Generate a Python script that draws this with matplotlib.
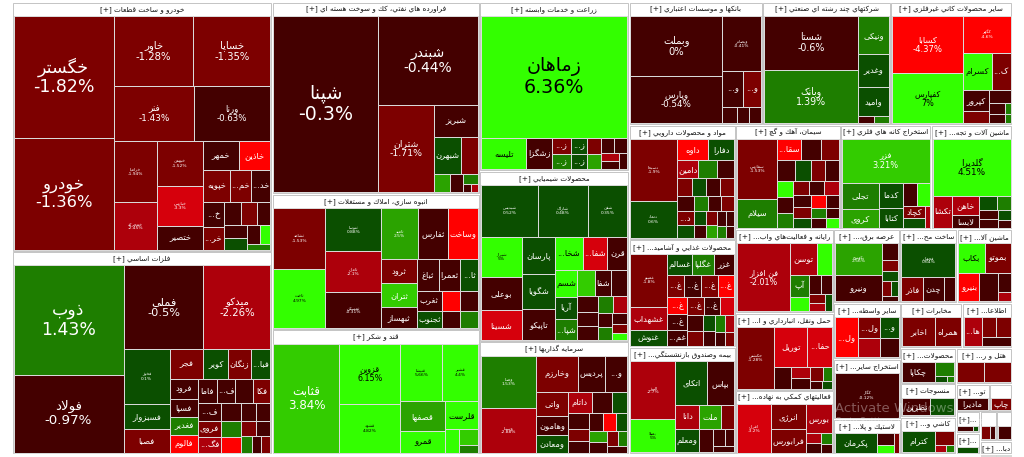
import matplotlib
matplotlib.use("Agg")
import matplotlib.pyplot as plt
from matplotlib.patches import Rectangle

# ---------------- data: (ticker, % change, market weight) ----------------
khodro_tiles = [
    ("خگستر", -1.82, 12200), ("خودرو", -1.36, 11200), ("خاور", -1.28, 5600),
    ("خساپا", -1.35, 5400), ("فنر", -1.43, 4400), ("ورنا", -0.63, 4200),
    ("خزامیا", -1.94, 2650), ("خمحرکه", -2.45, 2050), ("خبهمن", -1.52, 2040),
    ("خپارس", -3.3, 1840), ("ختصیر", -0.81, 1120), ("خمهر", -0.55, 1010),
    ("خاذین", -4.6, 900), ("خپویه", -1.24, 860), ("خموتور", -1.15, 675),
    ("خدیزل", -0.72, 640), ("خمحور", -0.64, 525), ("خریخت", -1.3, 460),
    ("", -0.6, 400), ("", -1.2, 350), ("", -0.5, 310), ("", -0.8, 300),
    ("", 0.7, 280), ("", -0.6, 250), ("", 5.0, 200), ("", 1.2, 150),
]
felezat_tiles = [
    ("ذوب", 1.43, 11900), ("فولاد", -0.97, 8500), ("فملی", -0.5, 6640),
    ("میدکو", -2.26, 5580), ("فخوز", 0.1, 2520), ("فسبزوار", 0.52, 1125),
    ("فصبا", -1.21, 1080), ("فجر", -1.55, 970), ("کویر", 0.61, 730),
    ("زنگان", -1.62, 650), ("فباهنر", 0.44, 570), ("فرود", -0.82, 560),
    ("فسپا", -0.61, 500), ("فغدیر", 1.52, 500), ("فالوم", -4.5, 490),
    ("فاما", -0.7, 460), ("فلوله", -0.9, 450), ("فنورد", -0.5, 430),
    ("فکا", -1.4, 420), ("فسرب", -0.6, 400), ("فروی", -1.3, 380),
    ("فگستر", -2.5, 350), ("", -0.4, 340), ("", 1.6, 320), ("", -4.4, 300),
    ("", -0.8, 280), ("", -0.5, 250), ("", -1.2, 220), ("", -0.7, 200),
    ("", 1.5, 180), ("", -0.6, 160), ("", -1.1, 150),
]
nafti_tiles = [
    ("شپنا", -0.3, 18690), ("شبندر", -0.44, 9090), ("شتران", -1.71, 5020),
    ("شبریز", -0.62, 1410), ("شبهرن", 0.71, 1010), ("شاوان", -1.12, 660),
    ("", 2.5, 290), ("", -0.5, 230), ("", 1.5, 145), ("", -0.6, 80), ("", -2.3, 60),
]
anbooh_tiles = [
    ("ثشاهد", -1.53, 3170), ("ثاخت", 4.97, 3070), ("ثنوسا", 0.88, 2420),
    ("ثامان", -2.1, 2260), ("ثمسکن", -0.31, 2016), ("ثامید", 2.5, 1920),
    ("ثفارس", -0.52, 1536), ("وساخت", -4.5, 1518), ("ثرود", -1.3, 864),
    ("ثتران", 3.5, 858), ("ثبهساز", -0.7, 736), ("ثباغ", -0.4, 704),
    ("ثعمرا", -0.8, 672), ("ثالوند", 0.62, 567), ("ثغرب", -0.6, 504),
    ("ثجنوب", 0.5, 441), ("", -4.5, 364), ("", -0.9, 360), ("", -0.6, 312),
    ("", 1.5, 308),
]
ghand_tiles = [
    ("قثابت", 3.84, 7330), ("قزوین", 6.15, 3780), ("قشهد", 4.82, 2990),
    ("قنیشا", 5.66, 2480), ("قشیر", 4.4, 2124), ("قصفها", 2.8, 1350),
    ("قمرو", 5.1, 990), ("قلرست", 4.9, 924), ("", 5.0, 340), ("", 3.5, 312),
    ("", 1.5, 140),
]
zeraat_tiles = [
    ("زماهان", 6.36, 17930), ("تلیسه", 5.2, 1420), ("زشگزا", -0.6, 792),
    ("زکشت", -1.3, 306), ("زمگسا", 1.5, 288), ("زفکا", 0.6, 260),
    ("زپارس", 0.5, 255), ("", -1.5, 221), ("", 2.5, 208), ("", -0.6, 198),
    ("", -0.7, 192), ("", -2.2, 154), ("", -0.8, 150), ("", -0.5, 140),
]
shimi_tiles = [
    ("شپدیس", 0.52, 2900), ("شاراک", 0.48, 2600), ("شفن", 0.35, 2000),
    ("شیراز", 5.0, 1600), ("بوعلی", -0.62, 1360), ("شسینا", -3.4, 1200),
    ("پارسان", 0.61, 1184), ("شگویا", 0.55, 1152), ("تاپیکو", -0.72, 992),
    ("شخارک", 4.6, 920), ("شفارس", -3.2, 805), ("قرن", -0.5, 667),
    ("شسم", 4.3, 575), ("آریا", 0.8, 483), ("شپاکسا", 1.4, 460),
    ("شکلر", 3.5, 460), ("شفا", -0.6, 420), ("شصفها", -0.5, 414),
    ("", -0.5, 320), ("", -0.7, 300), ("", -0.6, 280), ("", 1.5, 250),
    ("", -2.4, 230), ("", -0.5, 200), ("", 1.2, 180), ("", -0.8, 160),
    ("", -1.5, 140), ("", 4.5, 100),
]
sarmaye_tiles = [
    ("وصنا", 1.53, 2756), ("وسینا", -2.88, 2340), ("وخارزم", -1.3, 1419),
    ("پردیس", -0.62, 957), ("وسمرکز", -0.5, 759), ("واتی", -1.25, 702),
    ("وهامون", -0.7, 567), ("ومعادن", 0.6, 522), ("داتام", -2.2, 486),
    ("", -0.5, 408), ("", 0.5, 324), ("", -0.6, 324), ("", -1.3, 234),
    ("", -0.7, 234), ("", -0.5, 224), ("", -4.5, 216), ("", 0.7, 192),
    ("", 2.5, 192), ("", -0.6, 182), ("", -1.2, 150), ("", 1.5, 140),
    ("", -0.5, 120),
]
bank_tiles = [
    ("وبملت", 0, 5612), ("وپارس", -0.54, 4416), ("وبصادر", -0.41, 2200),
    ("وتجارت", -0.52, 800), ("وخاور", -1.4, 660), ("", -0.6, 250),
    ("", -0.5, 200), ("", -0.7, 200),
]
chand_tiles = [
    ("شستا", -0.6, 5180), ("وبانک", 1.39, 5180), ("ونیکی", 1.2, 1209),
    ("وغدیر", 0.6, 1023), ("وامید", 0.5, 899), ("", -0.6, 128), ("", 1.1, 120),
]
kani_tiles = [
    ("کسابا", -4.37, 4234), ("کفپارس", 7.0, 3723), ("کگهر", -4.6, 1824),
    ("کسرام", 5.0, 1073), ("کلوند", -1.3, 703), ("کپرور", -0.6, 546),
    ("", -1.2, 338), ("", -0.6, 286), ("", -0.7, 176), ("", -0.5, 160),
    ("", 1.0, 66), ("", 1.2, 60),
]
darou_tiles = [
    ("دسبحا", -1.9, 2852), ("دتماد", 0.6, 1702), ("داوه", -4.5, 672),
    ("دفارا", 0.7, 546), ("دامین", -2.2, 375), ("", 1.3, 324), ("", -0.9, 300),
    ("", -1.4, 280), ("", 0.4, 260), ("دلر", -0.6, 255), ("", -1.2, 252),
    ("", -0.7, 252), ("دکوثر", -1.2, 240), ("", 0.6, 216), ("", 1.5, 200),
    ("", -0.6, 190), ("", -1.3, 180), ("", 0.5, 170), ("", -0.8, 160),
    ("", -1.1, 150), ("", 2.5, 140), ("", -0.5, 130), ("", -0.6, 120),
    ("", 1.2, 110), ("", -0.7, 100),
]
ghaza_tiles = [
    ("غمینو", -1.8, 1908), ("غشهداب", -2.4, 828), ("غنوش", 0.5, 576),
    ("غسالم", 0.6, 525), ("غگلپا", 1.3, 483), ("غزر", -0.6, 420),
    ("غپاک", -1.4, 380), ("غبشهر", -0.7, 370), ("غدشت", -1.6, 360),
    ("غچین", -4.5, 350), ("غبهنوش", -4.4, 340), ("غشاذر", -0.9, 330),
    ("غمارگ", -0.8, 320), ("غدام", -1.2, 300), ("غپینو", -0.6, 280),
    ("", -3.3, 260), ("", -0.7, 240), ("", -1.3, 220), ("", 0.6, 200),
    ("", -0.5, 180), ("", 1.5, 160), ("", -2.3, 150), ("", -0.6, 140),
    ("", -1.1, 120),
]
bime_tiles = [
    ("البرز", -2.7, 2610), ("بمیلا", 5.0, 1530), ("اتکای", 0.72, 1408),
    ("بپاس", -0.6, 1188), ("دانا", -2.1, 576), ("ومعلم", 0.5, 576),
    ("ملت", 2.4, 528), ("", -1.3, 330), ("بآسیا", -0.7, 312),
    ("", -0.6, 200), ("", -0.5, 150), ("", -0.8, 150),
]
siman_tiles = [
    ("سفارس", -1.53, 2340), ("سیلام", 1.3, 1131), ("سقاین", -4.5, 500),
    ("سخزر", -0.6, 400), ("سبهان", -1.2, 380), ("سارود", -0.7, 360),
    ("سشرق", 0.6, 315), ("", -1.3, 285), ("", -0.6, 270), ("", 5.0, 260),
    ("", -0.8, 250), ("", 1.4, 240), ("", -1.5, 230), ("", -0.7, 220),
    ("", -2.4, 210), ("", -0.6, 200), ("", -1.1, 190), ("", 0.6, 180),
    ("", -4.5, 170), ("", -0.5, 160), ("", 1.2, 150), ("", -0.9, 140),
    ("", -0.6, 130), ("", 4.8, 120),
]
kane_tiles = [
    ("فزر", 3.21, 3700), ("تجلی", 1.3, 924), ("کروی", 2.2, 672),
    ("کدما", 0.6, 560), ("کتابا", 0.5, 456), ("", -0.6, 300), ("", 5.0, 288),
    ("کچاد", -1.3, 247), ("", 0.7, 208), ("", -2.3, 104),
]
mashin_tiles = [
    ("گلدیرا", 4.51, 4345), ("تکشا", -2.3, 600), ("خاهن", -2.2, 510),
    ("لابسا", -0.7, 323), ("", 0.6, 247), ("", 1.3, 180), ("", -0.6, 165),
    ("", -0.8, 165), ("", 0.7, 120), ("", -0.5, 100),
]
rayane_tiles = [
    ("فن افزار", -2.01, 3640), ("توسن", -2.2, 868), ("", 5.0, 465),
    ("آپ", 1.3, 390), ("", 5.0, 270), ("", -0.6, 234), ("", -0.7, 210),
    ("", -1.2, 150), ("", -2.3, 130), ("", 0.6, 120),
]
haml_tiles = [
    ("حکشتی", -1.28, 2442), ("توریل", -3.3, 1394), ("حفارس", -3.6, 1025),
    ("", -0.6, 400), ("", -2.2, 234), ("", -0.7, 216), ("", -1.3, 195),
    ("", 1.5, 130), ("", -0.5, 100), ("", 0.6, 80),
]
komaki_tiles = [
    ("افران", -3.2, 1734), ("انرژی", -1.2, 910), ("فرابورس", -1.4, 875),
    ("بورس", -2.1, 783), ("", -2.3, 168), ("", -0.6, 150), ("", 1.5, 120),
    ("", -0.7, 100),
]
bargh_tiles = [
    ("بکهنوج", 2.56, 1536), ("ونیرو", -0.6, 1248), ("", -0.7, 270),
    ("", -1.3, 180), ("", 0.6, 180), ("", -1.2, 130), ("", 0.5, 110), ("", -0.6, 90),
]
felezi_tiles = [("فجهان", 0.64, 1938), ("فاذر", -1.2, 552), ("چدن", -0.6, 528), ("", -0.7, 288)]
barghi_tiles = [
    ("بکاب", 5.0, 814), ("بموتو", -1.2, 780), ("بنیرو", -4.5, 624),
    ("", -0.6, 544), ("", -0.7, 250), ("", -2.3, 120),
]
vaset_tiles = [("ولساپا", -4.5, 1032), ("ولملت", -1.3, 506), ("", -2.3, 460), ("ولغدر", 0.6, 440), ("", -0.6, 400)]
madan_tiles = [("کگاز", -0.12, 2900)]
lastik_tiles = [("پکرمان", 0.6, 931), ("", -0.6, 230), ("", 5.0, 140), ("", -1.3, 100)]
mokhaberat_tiles = [("اخابر", -1.3, 1085), ("همراه", -1.2, 837)]
ettelaat_tiles = [("هایوب", -2.2, 589), ("", -1.3, 315), ("", -1.4, 315), ("", -0.6, 300)]
kaghaz_tiles = [("چکاپا", -0.6, 770), ("", 1.3, 320), ("", 0.6, 91), ("", 1.5, 49)]
nasaji_tiles = [("نطرین", -0.6, 570), ("", 0.6, 475)]
kashi_tiles = [("کترام", 0.6, 700), ("", -1.3, 260), ("", -2.3, 80), ("", 1.2, 60)]
hotel_tiles = [("", -1.3, 420), ("", -1.2, 405)]
tolid_tiles = [("مادیرا", -0.6, 430)]
chap_tiles = [("چاپ", -1.3, 300)]
forooshi_tiles = [("", -0.6, 150), ("", 0.5, 50)]
abi_tiles = [("", 0.6, 200)]
choobi_tiles = [("", -1.2, 120), ("", -0.6, 60)]
peyman_tiles = [("", -0.7, 150)]
dabbaghi_tiles = [("", -4.5, 60), ("", 1.5, 60)]

sector_names = [
    "خودرو و ساخت قطعات", "فلزات اساسي", "فراورده هاي نفتي، كك و سوخت هسته اي",
    "انبوه سازي، املاك و مستغلات", "قند و شكر", "زراعت و خدمات وابسته",
    "محصولات شيميايي", "سرمايه گذاريها", "بانكها و موسسات اعتباري",
    "شركتهاي چند رشته اي صنعتي", "ساير محصولات كاني غيرفلزي",
    "مواد و محصولات دارويي", "محصولات غذايي و آشاميدني به جز قند و شكر",
    "بيمه وصندوق بازنشستگي به جز تامين اجتماعي", "سيمان، آهك و گچ",
    "استخراج كانه هاي فلزي", "ماشين آلات و تجهيزات", "رايانه و فعاليت‌هاي وابسته به آن",
    "حمل ونقل، انبارداري و ارتباطات", "فعاليتهاي كمكي به نهادهاي مالي واسط",
    "عرضه برق، گاز، بخاروآب گرم", "ساخت محصولات فلزي", "ماشين آلات و دستگاههاي برقي",
    "ساير واسطه گريهاي مالي", "استخراج ساير معادن", "لاستيك و پلاستيك",
    "مخابرات", "اطلاعات و ارتباطات", "محصولات كاغذي", "منسوجات",
    "كاشي و سراميك", "هتل و رستوران", "توليد محصولات كامپيوتري",
    "انتشار، چاپ و تكثير", "خرده فروشي", "حمل و نقل آبي", "محصولات چوبي",
    "پيمانكاري صنعتي", "دباغي",
]
sector_values = [
    64000, 52000, 39350, 27800, 25500, 24900, 25200, 16600, 16226, 15494, 14762,
    12075, 11340, 11235, 10816, 9360, 8320, 8064, 7488, 6144, 4818, 4161, 4015,
    3700, 4000, 2300, 2745, 2205, 1950, 1815, 2035, 2000, 924, 616, 500, 500,
    480, 450, 420,
]
sector_tiles = [
    khodro_tiles, felezat_tiles, nafti_tiles, anbooh_tiles, ghand_tiles,
    zeraat_tiles, shimi_tiles, sarmaye_tiles, bank_tiles, chand_tiles, kani_tiles,
    darou_tiles, ghaza_tiles, bime_tiles, siman_tiles, kane_tiles, mashin_tiles,
    rayane_tiles, haml_tiles, komaki_tiles, bargh_tiles, felezi_tiles,
    barghi_tiles, vaset_tiles, madan_tiles, lastik_tiles, mokhaberat_tiles,
    ettelaat_tiles, kaghaz_tiles, nasaji_tiles, kashi_tiles, hotel_tiles,
    tolid_tiles, chap_tiles, forooshi_tiles, abi_tiles, choobi_tiles,
    peyman_tiles, dabbaghi_tiles,
]

# ---------------- persian shaping (matplotlib has no RTL layout) ----------------
DUAL = {0x0626: 0xFE89, 0x0628: 0xFE8F, 0x062A: 0xFE95, 0x062B: 0xFE99,
        0x062C: 0xFE9D, 0x062D: 0xFEA1, 0x062E: 0xFEA5, 0x0633: 0xFEB1,
        0x0634: 0xFEB5, 0x0635: 0xFEB9, 0x0636: 0xFEBD, 0x0637: 0xFEC1,
        0x0638: 0xFEC5, 0x0639: 0xFEC9, 0x063A: 0xFECD, 0x0641: 0xFED1,
        0x0642: 0xFED5, 0x0643: 0xFED9, 0x0644: 0xFEDD, 0x0645: 0xFEE1,
        0x0646: 0xFEE5, 0x0647: 0xFEE9, 0x064A: 0xFEF1, 0x067E: 0xFB56,
        0x0686: 0xFB7A, 0x06A9: 0xFB8E, 0x06AF: 0xFB92, 0x06CC: 0xFBFC}
RIGHT = {0x0622: 0xFE81, 0x0623: 0xFE83, 0x0624: 0xFE85, 0x0625: 0xFE87,
         0x0627: 0xFE8D, 0x0629: 0xFE93, 0x062F: 0xFEA9, 0x0630: 0xFEAB,
         0x0631: 0xFEAD, 0x0632: 0xFEAF, 0x0648: 0xFEED, 0x0698: 0xFB8A}
LAM_ALEF = {"ا": 0xFEFB, "آ": 0xFEF5, "أ": 0xFEF7, "إ": 0xFEF9}


def shape(s):
    out = []
    i, n = 0, len(s)
    while i < n:
        c = s[i]
        prev_dual = i > 0 and ord(s[i - 1]) in DUAL
        if c == "ل" and i + 1 < n and s[i + 1] in LAM_ALEF:
            out.append(chr(LAM_ALEF[s[i + 1]] + (1 if prev_dual else 0)))
            i += 2
            continue
        nxt_join = i + 1 < n and (ord(s[i + 1]) in DUAL or ord(s[i + 1]) in RIGHT)
        o = ord(c)
        if o in DUAL:
            f = 3 if (prev_dual and nxt_join) else 1 if prev_dual else 2 if nxt_join else 0
            out.append(chr(DUAL[o] + f))
        elif o in RIGHT:
            out.append(chr(RIGHT[o] + (1 if prev_dual else 0)))
        elif c != "\u200c":
            out.append(c)
        i += 1
    return "".join(out)


def visual(s):
    return shape(s)[::-1]


# ---------------- squarified treemap ----------------
RATIO = 1.15


def squarify(values, x0, y0, x1, y1):
    rects = [None] * len(values)
    value = float(sum(values))
    i0, n = 0, len(values)
    while i0 < n:
        dx, dy = x1 - x0, y1 - y0
        s = values[i0]
        i1 = i0 + 1
        vmin = vmax = s
        alpha = max(dy / dx, dx / dy) / (value * RATIO)
        beta = s * s * alpha
        best = max(vmax / beta, beta / vmin)
        while i1 < n:
            v = values[i1]
            s2 = s + v
            mn, mx = min(vmin, v), max(vmax, v)
            beta = s2 * s2 * alpha
            r = max(mx / beta, beta / mn)
            if r > best:
                break
            s, vmin, vmax, best = s2, mn, mx, r
            i1 += 1
        if dx < dy:
            yb = y0 + dy * s / value
            xx = x0
            for k in range(i0, i1):
                w = dx * values[k] / s
                rects[k] = (xx, y0, w, yb - y0)
                xx += w
            y0 = yb
        else:
            xb = x0 + dx * s / value
            yy = y0
            for k in range(i0, i1):
                h = dy * values[k] / s
                rects[k] = (x0, yy, xb - x0, h)
                yy += h
            x0 = xb
        value -= s
        i0 = i1
    return rects


def tile_color(p):
    if p >= 4:
        return "#33ff00"
    if p >= 3:
        return "#33cc00"
    if p >= 2:
        return "#2ba300"
    if p >= 1:
        return "#1e7e00"
    if p > 0:
        return "#0b4f00"
    if p > -1:
        return "#440000"
    if p > -2:
        return "#7d0000"
    if p > -3:
        return "#ad000b"
    if p > -4:
        return "#d6000c"
    return "#ff0000"


def pct_text(p):
    return ("%g" % p) + "%"


def width_of(t, rend):
    return t.get_window_extent(rend).width


def fit_text(ax, rend, x, y, name, maxw, size, color, prefix=""):
    t = ax.text(x, y, prefix + visual(name), fontsize=size, color=color,
                ha="center", va="center")
    if width_of(t, rend) <= maxw:
        return t
    for k in range(len(name) - 1, 0, -1):
        t.set_text(prefix + "..." + visual(name[:k].rstrip()))
        if width_of(t, rend) <= maxw:
            return t
    if prefix:
        t.set_text(prefix.strip() + "...")
        if width_of(t, rend) <= maxw:
            return t
    t.remove()
    return None


fig = plt.figure(figsize=(10.24, 4.57), dpi=100)
ax = fig.add_axes([0, 0, 1, 1])
ax.set_xlim(0, 1024)
ax.set_ylim(457, 0)
ax.axis("off")
rend = fig.canvas.get_renderer()

sector_rects = squarify(sector_values, 12, 2, 1012, 454)

for name, tiles, (sx, sy, sw, sh) in zip(sector_names, sector_tiles, sector_rects):
    ax.add_patch(Rectangle((sx + 0.8, sy + 0.8), sw - 1.6, sh - 1.6,
                           facecolor="white", edgecolor="#c4c4c4", linewidth=0.7))
    fit_text(ax, rend, sx + sw / 2, sy + 7.5, name, sw - 4, 5.2, "#111111", prefix="[+] ")
    ix, iy = sx + 1.5, sy + 14
    iw, ih = sw - 3, max(sh - 15.5, 1)
    weights = [t[2] for t in tiles]
    for (tname, pct, _), (tx, ty, tw, th) in zip(tiles, squarify(weights, ix, iy, ix + iw, iy + ih)):
        ax.add_patch(Rectangle((tx, ty), tw, th, facecolor=tile_color(pct),
                               edgecolor="#dcdcdc", linewidth=0.7))
        if not tname:
            continue
        fc = "black" if pct >= 4 else "white"
        cx, cy = tx + tw / 2, ty + th / 2
        area = tw * th
        if area >= 3500 and tw >= 50 and th >= 40:
            px = min(0.0011 * area + 4, 19, th * 0.85 / 2.4)
            t = ax.text(cx, cy, visual(tname) + "\n" + pct_text(pct), fontsize=px * 0.72,
                        color=fc, ha="center", va="center", linespacing=1.1)
            while width_of(t, rend) > tw - 4 and px > 5:
                px -= 0.5
                t.set_fontsize(px * 0.72)
        elif area >= 1500 and tw >= 30 and th >= 30:
            ax.text(cx, cy, visual(tname) + "\n" + pct_text(pct), fontsize=3.2,
                    color=fc, ha="center", va="center", linespacing=1.1)
        elif tw >= 15 and th >= 11:
            fit_text(ax, rend, cx, cy, tname, tw - 2, 6.0, fc)

# screenshot watermark
ax.text(835, 408, "Activate Windows", fontsize=9.5, color="white", alpha=0.35,
        ha="left", va="center")
ax.text(835, 422, "Go to Settings to activate Windows.", fontsize=6, color="white",
        alpha=0.35, ha="left", va="center")

fig.savefig("out.png", dpi=100, facecolor="white")
